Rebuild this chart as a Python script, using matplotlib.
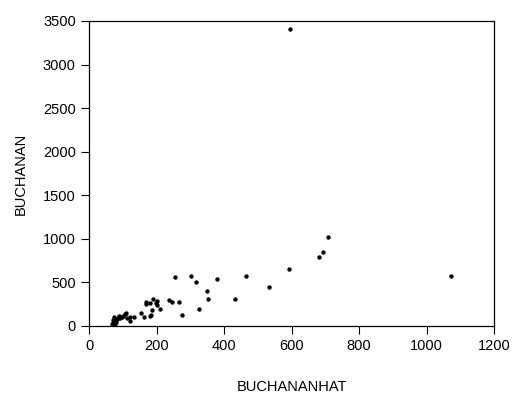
import matplotlib
matplotlib.use("Agg")
import matplotlib.pyplot as plt

# data
buchananhat = [597, 708, 693, 681, 594, 1073, 466, 533, 378, 303, 318, 256,
               350, 354, 434, 327, 275, 266, 237, 245, 191, 200, 168, 170,
               181, 198, 202, 209, 187, 184, 181, 155, 164, 134, 120, 120,
               110, 106, 99, 90, 82, 74, 70, 72, 68, 78, 76, 80, 86, 93,
               73, 75, 100, 113]
buchanan = [3408, 1016, 848, 795, 657, 569, 577, 451, 543, 577, 505, 566,
            401, 310, 310, 199, 126, 275, 295, 275, 314, 283, 279, 256,
            268, 260, 237, 191, 184, 122, 111, 153, 107, 103, 57, 103,
            153, 134, 103, 111, 76, 103, 65, 34, 27, 53, 23, 45, 88, 95,
            12, 60, 120, 90]

plt.rcParams["font.family"] = ["Liberation Sans", "DejaVu Sans"]

fig = plt.figure(figsize=(5.13, 3.96), dpi=100)
ax = fig.add_axes([0.1735, 0.1768, 0.7895, 0.7702])

ax.scatter(buchananhat, buchanan, s=10, color="black", linewidths=0)

ax.set_xlim(0, 1200)
ax.set_ylim(0, 3500)
ax.set_xticks(range(0, 1201, 200))
ax.set_yticks(range(0, 3501, 500))
ax.tick_params(labelsize=10.5, length=5.5, width=0.8, pad=4,
               direction="out", colors="black")
for s in ax.spines.values():
    s.set_linewidth(0.9)

ax.set_xlabel("BUCHANANHAT", fontsize=10.5, labelpad=19)
ax.set_ylabel("BUCHANAN", fontsize=10.5, labelpad=11)

fig.savefig("out.png", dpi=100)
